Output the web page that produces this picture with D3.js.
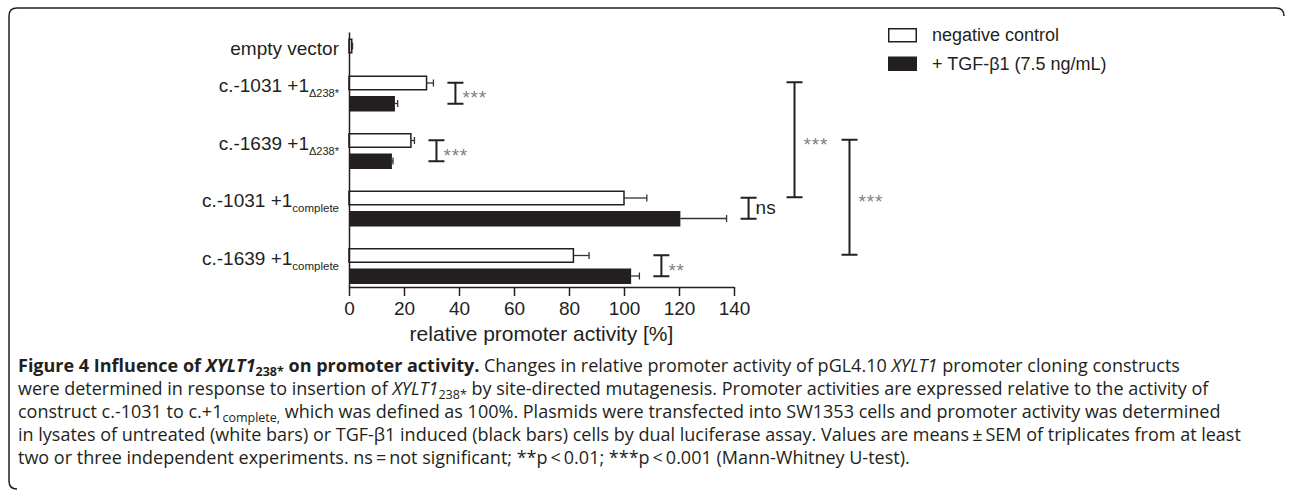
<!DOCTYPE html>
<html>
<head>
<meta charset="utf-8">
<script src="https://cdn.jsdelivr.net/npm/d3@7"></script>
<style>
  body { margin: 0; background: #fff; }
  svg { display: block; }
</style>
</head>
<body>
<div id="chart"></div>
<script>
// constructs (main label + subscript)
const categories = ["empty vector", "c.-1031 +1", "c.-1639 +1", "c.-1031 +1", "c.-1639 +1"];
const categorySubs = ["", "Δ238*", "Δ238*", "complete", "complete"];
const seriesNames = ["negative control", "+ TGF-β1 (7.5 ng/mL)"];

// relative promoter activity [%], mean and SEM
const controlValues = [1, 28.2, 22.5, 100, 81.6];
const controlErrors = [0.3, 2.5, 1.3, 8.3, 5.7];
const tgfValues = [null, 16.7, 15.6, 120.5, 102.6];
const tgfErrors = [null, 1, 0.4, 16.8, 3];

// significance, control vs TGF inside a construct
const pairLabels = [null, "***", "***", "ns", "**"];
// significance between constructs
const crossFrom = [1, 2];
const crossTo = [3, 4];
const crossLabels = ["***", "***"];

const xTicks = [0, 20, 40, 60, 80, 100, 120, 140];

const W = 1290, H = 501;
const ink = "#231f20";
const font = "'Liberation Sans', Arial, Helvetica, sans-serif";

const svg = d3.select("#chart")
  .append("svg")
  .attr("width", W)
  .attr("height", H)
  .attr("font-family", font);

// page frame
svg.append("path")
  .attr("d", "M1284,16 Q1284,8 1276,8 L17,8 Q9,8 9,16 L9,481 Q9,489 17,489")
  .attr("fill", "none")
  .attr("stroke", ink)
  .attr("stroke-width", 1.5);

const x = d3.scaleLinear().domain([0, 140]).range([349, 734]);
const axisY = 287;

// one unit = one bar row, groups separated by a gap
const row = d3.scaleLinear().domain([0, 1]).range([38.5, 59]);
const gapUnits = 16.5 / 20.5;
const barH = 15;

const bars = [];
let n = 0;
categories.forEach((c, k) => {
  [[controlValues[k], controlErrors[k]], [tgfValues[k], tgfErrors[k]]].forEach(([v, e], s) => {
    if (v == null) return;
    bars.push({ k, s, v, e, top: row(n + k * gapUnits) });
    n++;
  });
});

const groupCenter = k => d3.mean(bars.filter(b => b.k === k), b => b.top + barH / 2);
const groupTop = k => d3.min(bars.filter(b => b.k === k), b => b.top);
const groupEnd = k => d3.max(bars.filter(b => b.k === k), b => b.v + b.e);

// bars
bars.forEach(b => {
  if (b.s === 0) {
    svg.append("rect")
      .attr("x", x(0))
      .attr("y", b.top + 0.75)
      .attr("width", x(b.v) - x(0))
      .attr("height", barH - 1.5)
      .attr("fill", "#fff")
      .attr("stroke", ink)
      .attr("stroke-width", 1.5);
  } else {
    svg.append("rect")
      .attr("x", x(0))
      .attr("y", b.top)
      .attr("width", x(b.v) - x(0))
      .attr("height", barH + 0.5)
      .attr("fill", ink);
  }
  // error bar
  const cy = b.top + barH / 2;
  svg.append("line")
    .attr("x1", x(b.v)).attr("x2", x(b.v + b.e))
    .attr("y1", cy).attr("y2", cy)
    .attr("stroke", "#333").attr("stroke-width", 1.3);
  svg.append("line")
    .attr("x1", x(b.v + b.e)).attr("x2", x(b.v + b.e))
    .attr("y1", cy - 3.5).attr("y2", cy + 3.5)
    .attr("stroke", "#333").attr("stroke-width", 1.3);
});

// x axis
const xAxis = svg.append("g")
  .attr("transform", `translate(0,${axisY})`)
  .call(d3.axisBottom(x).tickValues(xTicks).tickSize(9).tickSizeOuter(0).tickPadding(6));
xAxis.select(".domain").attr("stroke", ink).attr("stroke-width", 1.5);
xAxis.selectAll(".tick line").attr("stroke", ink).attr("stroke-width", 1.5);
xAxis.selectAll(".tick text")
  .attr("font-family", font)
  .attr("font-size", 19)
  .attr("fill", ink);

svg.append("text")
  .attr("x", x(70))
  .attr("y", 341)
  .attr("text-anchor", "middle")
  .attr("font-size", 21)
  .attr("fill", ink)
  .text("relative promoter activity [%]");

// y axis line only
const yAxisScale = d3.scaleLinear().range([axisY, 32]);
svg.append("g")
  .attr("transform", `translate(${x(0)},0)`)
  .call(d3.axisLeft(yAxisScale).tickValues([]).tickSizeOuter(0))
  .select(".domain").attr("stroke", ink).attr("stroke-width", 1.5);

// construct labels
categories.forEach((c, k) => {
  const t = svg.append("text")
    .attr("x", x(0) - 10)
    .attr("y", groupTop(k) + 16.5)
    .attr("text-anchor", "end")
    .attr("font-size", 19)
    .attr("fill", ink);
  t.append("tspan").text(c);
  if (categorySubs[k]) {
    t.append("tspan")
      .attr("dy", 5)
      .attr("font-size", categorySubs[k] === "complete" ? 11.5 : 11)
      .text(categorySubs[k]);
  }
});

// significance brackets
function bracket(xp, y1, y2) {
  svg.append("path")
    .attr("d", `M${xp - 8},${y1}H${xp + 8}M${xp},${y1}V${y2}M${xp - 8},${y2}H${xp + 8}`)
    .attr("fill", "none")
    .attr("stroke", ink)
    .attr("stroke-width", 2);
}
function sigText(xp, yc, label) {
  if (label === "ns") {
    svg.append("text")
      .attr("x", xp).attr("y", yc + 6)
      .attr("font-size", 19).attr("fill", ink)
      .text(label);
  } else {
    svg.append("text")
      .attr("x", xp).attr("y", yc + 11)
      .attr("font-size", 19).attr("letter-spacing", 0.8)
      .attr("fill", "#808080")
      .text(label);
  }
}

pairLabels.forEach((lab, k) => {
  if (!lab) return;
  const xp = x(groupEnd(k) + 8);
  const yc = groupCenter(k);
  bracket(xp, yc - 10.5, yc + 10.5);
  sigText(xp + 7, yc, lab);
});

const crossX = [162, 182];
crossLabels.forEach((lab, i) => {
  const xp = x(crossX[i]);
  const y1 = groupCenter(crossFrom[i]) - 11;
  const y2 = groupCenter(crossTo[i]) - 11;
  bracket(xp, y1, y2);
  sigText(xp + 9, (y1 + y2) / 2, lab);
});

// legend
const legend = svg.append("g").attr("transform", "translate(888,28)");
seriesNames.forEach((s, i) => {
  const g = legend.append("g").attr("transform", `translate(0,${i * 28.5})`);
  g.append("rect")
    .attr("x", i === 0 ? 0.75 : 0)
    .attr("y", i === 0 ? 0.75 : 0)
    .attr("width", i === 0 ? 27.5 : 29)
    .attr("height", i === 0 ? 13 : 14.5)
    .attr("fill", i === 0 ? "#fff" : ink)
    .attr("stroke", i === 0 ? ink : "none")
    .attr("stroke-width", 1.5);
  g.append("text")
    .attr("x", 44)
    .attr("y", 13)
    .attr("font-size", 18)
    .attr("fill", ink)
    .text(s);
});

// caption
const captionLines = [
  [["Figure 4 Influence of ", "b"], ["XYLT1", "bi"], ["238*", "bs"], [" on promoter activity.", "b"],
   [" Changes in relative promoter activity of pGL4.10 ", ""], ["XYLT1", "i"], [" promoter cloning constructs", ""]],
  [["were determined in response to insertion of ", ""], ["XYLT1", "i"], ["238*", "s"],
   [" by site-directed mutagenesis. Promoter activities are expressed relative to the activity of", ""]],
  [["construct c.-1031 to c.+1", ""], ["complete,", "s"],
   [" which was defined as 100%. Plasmids were transfected into SW1353 cells and promoter activity was determined", ""]],
  [["in lysates of untreated (white bars) or TGF-β1 induced (black bars) cells by dual luciferase assay. Values are means\u2009±\u2009SEM of triplicates from at least", ""]],
  [["two or three independent experiments. ns\u2009=\u2009not significant; **p\u2009<\u20090.01; ***p\u2009<\u20090.001 (Mann-Whitney U-test).", ""]]
];

captionLines.forEach((segs, i) => {
  const t = svg.append("text")
    .attr("x", 18)
    .attr("y", 372 + i * 23)
    .attr("font-family", "'Open Sans', sans-serif")
    .attr("font-size", 18)
    .attr("fill", ink);
  let sub = false;
  segs.forEach(([str, st]) => {
    const ts = t.append("tspan").text(str);
    if (st.includes("b")) ts.attr("font-weight", "bold");
    if (st.includes("i")) ts.attr("font-style", "italic");
    if (st.includes("s")) {
      ts.attr("font-size", 12.5).attr("dy", 3.5);
      sub = true;
    } else if (sub) {
      ts.attr("dy", -3.5);
      sub = false;
    }
  });
});
</script>
</body>
</html>
